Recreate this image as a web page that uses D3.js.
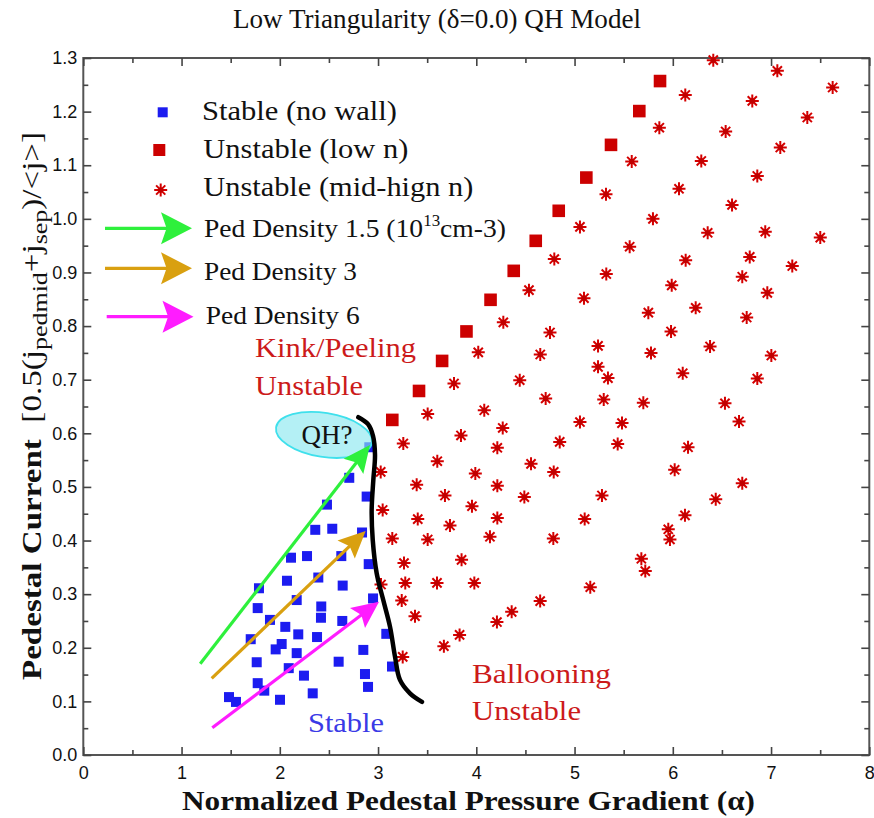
<!DOCTYPE html>
<html>
<head>
<meta charset="utf-8">
<script src="https://cdn.jsdelivr.net/npm/d3@7"></script>
<style>
  body { margin: 0; background: #fff; }
  .tick text { font-family: 'Liberation Sans', Arial, sans-serif; font-size: 18px; fill: #111; }
  .serif { font-family: 'Liberation Serif', 'Times New Roman', serif; }
</style>
</head>
<body>
<svg width="874" height="818"></svg>
<script>
// ---- data ----
const xTicks = [0, 1, 2, 3, 4, 5, 6, 7, 8];
const xMinorTicks = [0.5, 1.5, 2.5, 3.5, 4.5, 5.5, 6.5, 7.5];
const yTicks = [0, 0.1, 0.2, 0.3, 0.4, 0.5, 0.6, 0.7, 0.8, 0.9, 1.0, 1.1, 1.2, 1.3];
const yMinorTicks = [0.05, 0.15, 0.25, 0.35, 0.45, 0.55, 0.65, 0.75, 0.85, 0.95, 1.05, 1.15, 1.25];

// blue squares: stable (no wall)
const stableNoWall = [
  [2.911, 0.574], [2.707, 0.517], [2.884, 0.482], [2.480, 0.467], [2.361, 0.420],
  [2.534, 0.422], [2.837, 0.415], [2.114, 0.368], [2.277, 0.371], [2.626, 0.371],
  [2.905, 0.356], [1.788, 0.311], [2.073, 0.325], [2.392, 0.331], [2.640, 0.316],
  [2.949, 0.292], [1.775, 0.274], [2.172, 0.289], [2.422, 0.277], [1.900, 0.252],
  [2.419, 0.256], [2.636, 0.250], [2.056, 0.239], [2.188, 0.225], [2.379, 0.220],
  [1.704, 0.216], [3.084, 0.226], [2.019, 0.207], [1.958, 0.197], [2.172, 0.190],
  [2.850, 0.196], [1.765, 0.173], [2.599, 0.174], [2.091, 0.162], [3.142, 0.165],
  [1.775, 0.134], [2.246, 0.148], [2.867, 0.151], [1.842, 0.120], [2.898, 0.127],
  [1.483, 0.108], [1.554, 0.099], [2.335, 0.115], [2.002, 0.103]
];

// red squares: unstable (low n)
const unstableLowN = [
  [3.145, 0.625], [3.417, 0.679], [3.652, 0.735], [3.900, 0.790], [4.145, 0.849],
  [4.381, 0.903], [4.605, 0.959], [4.839, 1.015], [5.120, 1.077], [5.371, 1.138],
  [5.659, 1.201], [5.870, 1.257]
];

// red stars: unstable (mid-high n)
const unstableMidHighN = [
  [6.412, 1.296], [7.064, 1.276], [7.627, 1.245], [6.127, 1.231], [6.809, 1.220],
  [7.369, 1.189], [5.863, 1.170], [6.538, 1.163], [7.094, 1.133], [5.582, 1.107],
  [6.290, 1.108], [6.860, 1.080], [5.320, 1.046], [6.063, 1.056], [6.603, 1.026],
  [5.798, 1.000], [6.355, 0.974], [6.941, 0.976], [7.501, 0.965], [5.561, 0.948],
  [6.131, 0.923], [6.783, 0.929], [7.216, 0.912], [5.323, 0.897], [5.989, 0.876],
  [6.707, 0.892], [6.962, 0.862], [5.055, 0.985], [4.794, 0.925], [4.536, 0.867],
  [5.096, 0.852], [4.275, 0.807], [4.750, 0.788], [5.239, 0.763], [4.020, 0.751],
  [4.651, 0.747], [5.239, 0.724], [5.340, 0.703], [3.773, 0.693], [4.442, 0.699],
  [4.706, 0.665], [5.297, 0.663], [3.505, 0.636], [4.081, 0.643], [4.269, 0.610],
  [5.055, 0.621], [3.257, 0.581], [3.844, 0.596], [4.214, 0.573], [4.849, 0.584],
  [3.027, 0.528], [3.603, 0.548], [4.557, 0.543], [3.990, 0.525], [4.788, 0.528],
  [3.393, 0.504], [4.214, 0.502], [3.047, 0.457], [3.681, 0.484], [4.489, 0.481],
  [5.279, 0.484], [3.956, 0.464], [3.404, 0.440], [4.214, 0.442], [5.103, 0.440],
  [3.732, 0.428], [3.145, 0.404], [3.505, 0.402], [4.139, 0.407], [4.784, 0.404],
  [5.751, 0.825], [6.233, 0.834], [6.752, 0.816], [5.982, 0.790], [6.379, 0.762],
  [5.778, 0.750], [7.003, 0.745], [6.101, 0.712], [6.860, 0.702], [5.700, 0.657],
  [6.531, 0.656], [5.483, 0.619], [6.674, 0.622], [6.155, 0.574], [6.019, 0.532],
  [6.707, 0.507], [6.437, 0.477], [6.124, 0.447], [5.954, 0.421], [5.971, 0.402],
  [5.439, 0.580], [3.264, 0.358], [3.277, 0.321], [3.030, 0.318], [3.241, 0.288],
  [3.376, 0.259], [3.251, 0.183], [3.600, 0.321], [3.670, 0.203], [3.830, 0.224],
  [3.980, 0.321], [4.210, 0.248], [4.360, 0.267], [4.650, 0.287], [5.160, 0.313],
  [5.680, 0.366], [5.720, 0.343], [3.850, 0.364]
];

// stability boundary (black curve)
const boundary = [
  [2.799, 0.630], [2.898, 0.617], [2.949, 0.595], [2.969, 0.560], [2.952, 0.513],
  [2.935, 0.457], [2.946, 0.401], [2.986, 0.339], [3.053, 0.289], [3.122, 0.239],
  [3.173, 0.183], [3.223, 0.140], [3.325, 0.115], [3.447, 0.099]
];

// density scan arrows (start, end) for ped density 1.5, 3, 6
const scanStart = [[1.19, 0.170], [1.307, 0.143], [1.313, 0.051]];
const scanEnd = [[2.918, 0.578], [2.874, 0.418], [3.010, 0.286]];
const scanColors = ['#2ef03c', '#d9a010', '#ff1cff'];

// QH region ellipse: center, radii (data units)
const qhCenter = [2.45, 0.597];
const qhRadii = [0.494, 0.041];

// ---- chart ----
const svg = d3.select('svg');
const margin = { left: 83.3, right: 4.7, top: 58, bottom: 63 };
const W = 874, H = 818;

const x = d3.scaleLinear().domain([0, 8]).range([margin.left, W - margin.right]);
const y = d3.scaleLinear().domain([0, 1.3]).range([H - margin.bottom, margin.top]);

const axisColor = '#444';

// frame
svg.append('rect')
  .attr('x', x(0)).attr('y', y(1.3))
  .attr('width', x(8) - x(0)).attr('height', y(0) - y(1.3))
  .attr('fill', 'none').attr('stroke', '#555').attr('stroke-width', 2);

function styleAxis(g) {
  g.select('.domain').remove();
  g.selectAll('.tick line').attr('stroke', axisColor).attr('stroke-width', 1.6);
}

// bottom
svg.append('g').attr('transform', `translate(0,${y(0)})`)
  .call(d3.axisBottom(x).tickValues(xTicks).tickSize(-8).tickPadding(11).tickFormat(d3.format('d')))
  .call(styleAxis);
svg.append('g').attr('transform', `translate(0,${y(0)})`)
  .call(d3.axisBottom(x).tickValues(xMinorTicks).tickSize(-5).tickFormat(''))
  .call(styleAxis);
// top
svg.append('g').attr('transform', `translate(0,${y(1.3)})`)
  .call(d3.axisTop(x).tickValues(xTicks).tickSize(-8).tickFormat(''))
  .call(styleAxis);
svg.append('g').attr('transform', `translate(0,${y(1.3)})`)
  .call(d3.axisTop(x).tickValues(xMinorTicks).tickSize(-5).tickFormat(''))
  .call(styleAxis);
// left
svg.append('g').attr('transform', `translate(${x(0)},0)`)
  .call(d3.axisLeft(y).tickValues(yTicks).tickSize(-8).tickPadding(6).tickFormat(d3.format('.1f')))
  .call(styleAxis);
svg.append('g').attr('transform', `translate(${x(0)},0)`)
  .call(d3.axisLeft(y).tickValues(yMinorTicks).tickSize(-5).tickFormat(''))
  .call(styleAxis);
// right
svg.append('g').attr('transform', `translate(${x(8)},0)`)
  .call(d3.axisRight(y).tickValues(yTicks).tickSize(-8).tickFormat(''))
  .call(styleAxis);
svg.append('g').attr('transform', `translate(${x(8)},0)`)
  .call(d3.axisRight(y).tickValues(yMinorTicks).tickSize(-5).tickFormat(''))
  .call(styleAxis);

// star marker path (8 arms)
function starPath(r) {
  const a = r * 0.7071;
  return `M0,${-r}L0,${r}M${-r},0L${r},0M${-a},${-a}L${a},${a}M${-a},${a}L${a},${-a}`;
}

const plot = svg.append('g');

// red stars
const stars = plot.selectAll('.star').data(unstableMidHighN).enter()
  .append('g').attr('class', 'star')
  .attr('transform', d => `translate(${x(d[0])},${y(d[1])})`);
stars.append('path').attr('d', starPath(6.5))
  .attr('stroke', '#d40000').attr('stroke-width', 2).attr('fill', 'none');
stars.append('circle').attr('r', 2.6).attr('fill', '#c00000');

// red squares
plot.selectAll('.rsq').data(unstableLowN).enter()
  .append('rect').attr('class', 'rsq')
  .attr('x', d => x(d[0]) - 6.3).attr('y', d => y(d[1]) - 6.3)
  .attr('width', 12.6).attr('height', 12.6).attr('fill', '#cc0000');

// blue squares
plot.selectAll('.bsq').data(stableNoWall).enter()
  .append('rect').attr('class', 'bsq')
  .attr('x', d => x(d[0]) - 5).attr('y', d => y(d[1]) - 5)
  .attr('width', 10).attr('height', 10).attr('fill', '#1c1cf0');

// QH ellipse
const ex = x(qhCenter[0]), ey = y(qhCenter[1]);
const erx = x(qhRadii[0]) - x(0), ery = y(0) - y(qhRadii[1]);
svg.append('ellipse')
  .attr('cx', ex).attr('cy', ey).attr('rx', erx).attr('ry', ery)
  .attr('transform', `rotate(9,${ex},${ey})`)
  .attr('fill', 'rgba(140,232,240,0.65)').attr('stroke', '#3fe0ec').attr('stroke-width', 1.8);
svg.append('text').attr('class', 'serif')
  .attr('x', ex + 3).attr('y', ey + 9).attr('text-anchor', 'middle')
  .attr('font-size', 27).attr('fill', '#111').text('QH?');

// arrow helper (pixel coords)
function arrow(g, x1, y1, x2, y2, color, len, wid) {
  const ang = Math.atan2(y2 - y1, x2 - x1);
  const sx = x2 - Math.cos(ang) * len * 0.7, sy = y2 - Math.sin(ang) * len * 0.7;
  g.append('line')
    .attr('x1', x1).attr('y1', y1).attr('x2', sx).attr('y2', sy)
    .attr('stroke', color).attr('stroke-width', 3.2);
  g.append('path')
    .attr('d', `M0,0L${-len},${-wid / 2}L${-len * 0.82},0L${-len},${wid / 2}Z`)
    .attr('transform', `translate(${x2},${y2}) rotate(${ang * 180 / Math.PI})`)
    .attr('fill', color);
}

const arrows = svg.append('g');
scanStart.forEach((s, i) => {
  const e = scanEnd[i];
  arrow(arrows, x(s[0]), y(s[1]), x(e[0]), y(e[1]), scanColors[i], 27, 25);
});

// boundary curve
svg.append('path')
  .datum(boundary)
  .attr('d', d3.line().x(d => x(d[0])).y(d => y(d[1])).curve(d3.curveCatmullRom))
  .attr('fill', 'none').attr('stroke', '#000').attr('stroke-width', 4.5)
  .attr('stroke-linecap', 'round');

// ---- legend ----
const leg = svg.append('g');
leg.append('rect').attr('x', 157.7).attr('y', 107.3).attr('width', 10).attr('height', 10).attr('fill', '#1c1cf0');
leg.append('rect').attr('x', 153.3).attr('y', 144).attr('width', 12).attr('height', 12).attr('fill', '#cc0000');
leg.append('g').attr('transform', 'translate(160.7,190)')
  .call(g => {
    g.append('path').attr('d', starPath(6.5)).attr('stroke', '#d40000').attr('stroke-width', 2);
    g.append('circle').attr('r', 2.6).attr('fill', '#c00000');
  });
arrow(leg, 105, 228.3, 192, 228.3, scanColors[0], 31, 32);
arrow(leg, 105, 268.3, 192, 268.3, scanColors[1], 31, 32);
arrow(leg, 106.7, 316.7, 193.5, 316.7, scanColors[2], 31, 32);

function label(txt, x0, y0, len, size, color) {
  return svg.append('text').attr('class', 'serif')
    .attr('x', x0).attr('y', y0).attr('font-size', size).attr('fill', color || '#111')
    .attr('textLength', len).attr('lengthAdjust', 'spacingAndGlyphs').text(txt);
}
label('Stable (no wall)', 202, 119.5, 195, 28);
label('Unstable (low n)', 203.3, 157.5, 205, 28);
label('Unstable (mid-hign n)', 203.3, 196, 270, 28);

const d15 = svg.append('text').attr('class', 'serif')
  .attr('x', 204).attr('y', 236.5).attr('font-size', 26).attr('fill', '#111')
  .attr('textLength', 302).attr('lengthAdjust', 'spacingAndGlyphs');
d15.append('tspan').text('Ped Density 1.5 (10');
d15.append('tspan').attr('font-size', 16).attr('dy', -11).text('13');
d15.append('tspan').attr('dy', 11).text('cm-3)');
label('Ped Density 3', 204, 279.5, 153, 26);
label('Ped Density 6', 205.7, 323.5, 154, 26);

// region annotations
label('Kink/Peeling', 255, 356.7, 161, 28, '#cc1a1a');
label('Unstable', 255, 395, 108, 28, '#cc1a1a');
label('Ballooning', 472, 683, 139, 28, '#cc1a1a');
label('Unstable', 472, 720, 109, 28, '#cc1a1a');
label('Stable', 308, 731.7, 76, 28, '#3a3ae6');

// title
svg.append('text').attr('class', 'serif')
  .attr('x', 437).attr('y', 28).attr('text-anchor', 'middle')
  .attr('font-size', 27).attr('fill', '#111')
  .attr('textLength', 408).attr('lengthAdjust', 'spacingAndGlyphs')
  .text('Low Triangularity (\u03b4=0.0) QH Model');

// x axis title
svg.append('text').attr('class', 'serif')
  .attr('x', 182).attr('y', 810).attr('font-size', 28).attr('font-weight', 'bold').attr('fill', '#111')
  .attr('textLength', 573).attr('lengthAdjust', 'spacingAndGlyphs')
  .text('Normalized Pedestal Pressure Gradient (\u03b1)');

// y axis title
const yt = svg.append('text').attr('class', 'serif')
  .attr('transform', 'translate(41,680) rotate(-90)')
  .attr('font-size', 28).attr('fill', '#111')
  .attr('textLength', 548).attr('lengthAdjust', 'spacingAndGlyphs');
yt.append('tspan').attr('font-weight', 'bold').text('Pedestal Current');
yt.append('tspan').text('\u00a0\u00a0[0.5(j');
yt.append('tspan').attr('font-size', 22).attr('dy', 6).text('pedmid');
yt.append('tspan').attr('dy', -6).text('+j');
yt.append('tspan').attr('font-size', 22).attr('dy', 6).text('sep');
yt.append('tspan').attr('dy', -6).text(')/<j>]');
</script>
</body>
</html>
